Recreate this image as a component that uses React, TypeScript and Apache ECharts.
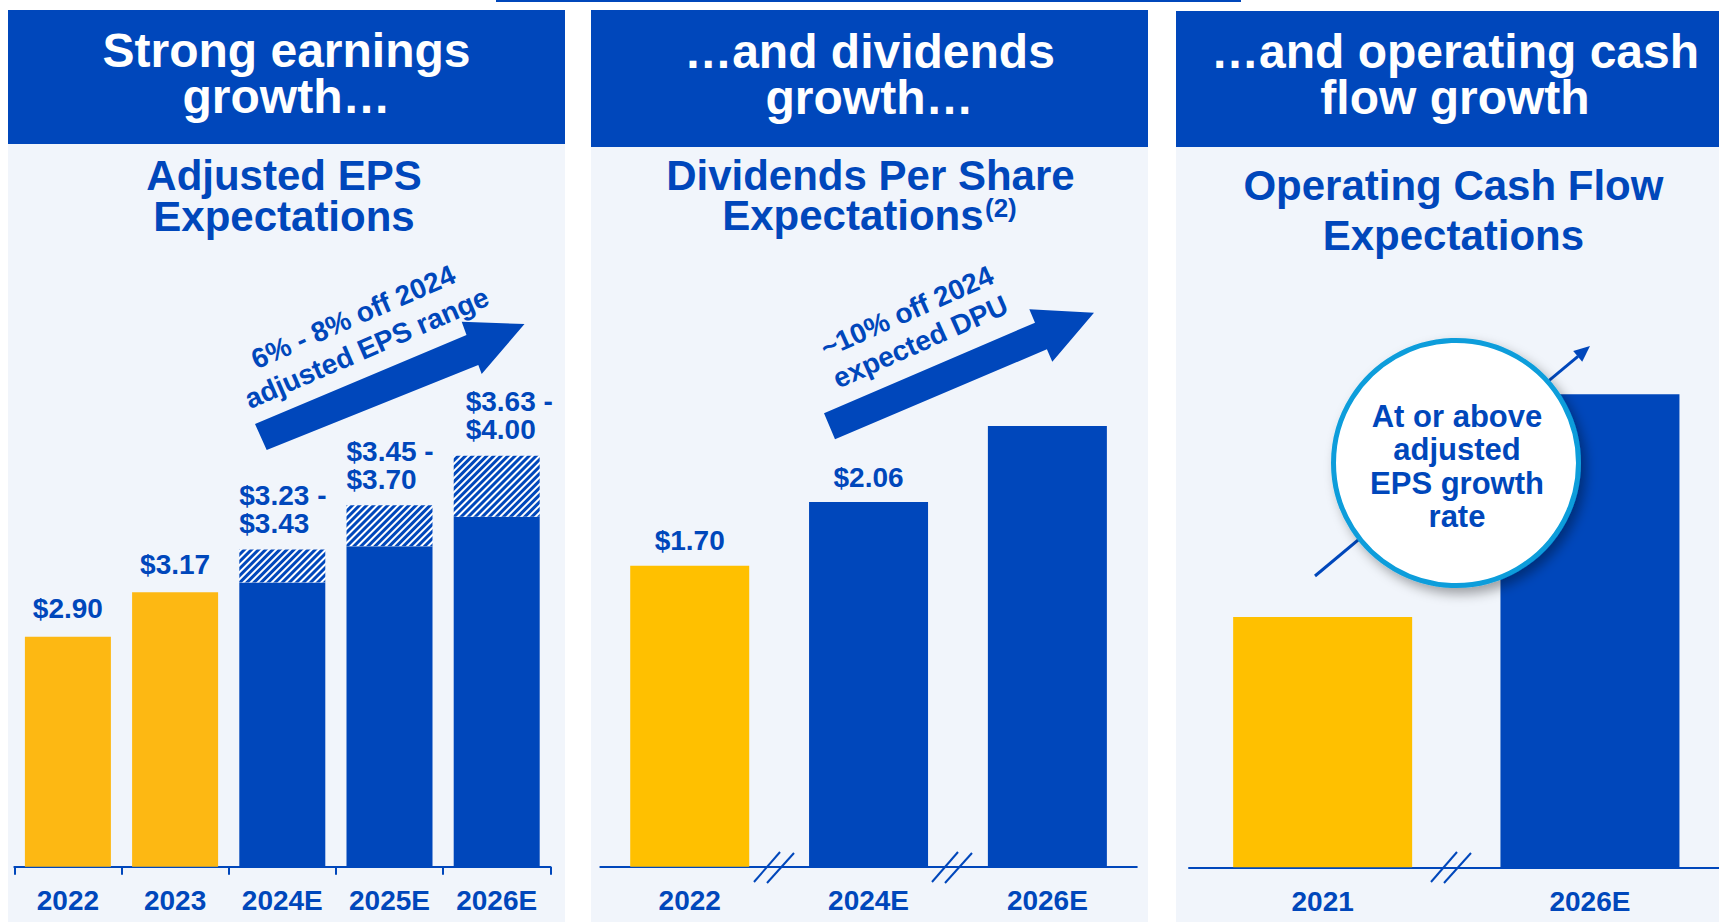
import React, { useEffect, useRef } from "react";
import * as echarts from "echarts";

// ---------- data ----------
const epsCategories = ["2022", "2023", "2024E", "2025E", "2026E"];
const epsLow = [2.9, 3.17, 3.23, 3.45, 3.63];
const epsHigh: (number | null)[] = [null, null, 3.43, 3.7, 4.0];

const dpsCategories = ["2022", "2024E", "2026E"];
const dpsValues = [1.7, 2.06, 2.49];
const dpsLabels = ["$1.70", "$2.06", ""];

const ocfCategories = ["2021", "2026E"];
const ocfIndex = [1.0, 1.89]; // relative level, 2021 = 1.00 (no values shown)

const headerTitles = ["Strong earnings\ngrowth…", "…and dividends\ngrowth…", "…and operating cash\nflow growth"];
const arrowNotes = ["6% - 8% off 2024\nadjusted EPS range", "~10% off 2024\nexpected DPU"];
const circleNote = "At or above\nadjusted\nEPS growth\nrate";

// ---------- style ----------
const FONT = '"Liberation Sans", Arial, Helvetica, sans-serif';
const BLUE = "#0047BB";
const GOLD1 = "#FDB813";
const GOLD2 = "#FFC000";
const LIGHT = "#F1F5FB";
const CYAN = "#0A9DDB";

const isEstimate = (c: string) => c.endsWith("E");
const deg = (d: number) => (d * Math.PI) / 180;

function breakMark(cx: number) {
  return [
    { type: "line", z: 5, shape: { x1: cx - 21, y1: 882, x2: cx + 5, y2: 852 }, style: { stroke: BLUE, lineWidth: 2 } },
    { type: "line", z: 5, shape: { x1: cx - 8, y1: 883, x2: cx + 19, y2: 853 }, style: { stroke: BLUE, lineWidth: 2 } },
  ];
}

function buildOption() {
  const labelBase = { color: BLUE, fontSize: 28, fontWeight: "bold", fontFamily: FONT };

  const epsBaseData = epsLow.map((v, i) => {
    const est = isEstimate(epsCategories[i]);
    return {
      value: v,
      itemStyle: { color: est ? BLUE : GOLD1 },
      label: { show: epsHigh[i] == null, formatter: "$" + v.toFixed(2) },
    };
  });
  const rangeShiftX = [0, 0, 0, 0, 12];
  const epsRangeData = epsHigh.map((h, i) => {
    if (h == null) return "-";
    return {
      value: +(h - epsLow[i]).toFixed(2),
      label: {
        show: true,
        position: [rangeShiftX[i], -12],
        align: "left",
        verticalAlign: "bottom",
        lineHeight: 28,
        formatter: "$" + epsLow[i].toFixed(2) + " -\n$" + h.toFixed(2),
        ...labelBase,
      },
    };
  });

  const axisLabel = { color: BLUE, fontSize: 28, fontWeight: "bold", fontFamily: FONT, margin: 20 };
  const axisLine = { show: true, lineStyle: { color: BLUE, width: 2 } };

  const graphic: any[] = [
    // top decorative line
    { type: "rect", z: 0, shape: { x: 496, y: 0, width: 745, height: 2 }, style: { fill: BLUE } },
    // panel backgrounds
    { type: "rect", z: -1, shape: { x: 8, y: 144, width: 557, height: 778 }, style: { fill: LIGHT } },
    { type: "rect", z: -1, shape: { x: 591, y: 147, width: 557, height: 775 }, style: { fill: LIGHT } },
    { type: "rect", z: -1, shape: { x: 1176, y: 147, width: 558, height: 775 }, style: { fill: LIGHT } },
    // headers
    { type: "rect", z: 0, shape: { x: 8, y: 10, width: 557, height: 134 }, style: { fill: BLUE } },
    { type: "rect", z: 0, shape: { x: 591, y: 10, width: 557, height: 137 }, style: { fill: BLUE } },
    { type: "rect", z: 0, shape: { x: 1176, y: 11, width: 558, height: 136 }, style: { fill: BLUE } },
  ];
  const headerX = [286.5, 869.5, 1455];
  const headerY = [73.5, 74.5, 74.5];
  headerTitles.forEach((t, i) => {
    graphic.push({
      type: "text", z: 1, x: headerX[i], y: headerY[i],
      style: { text: t, fill: "#fff", font: `bold 48px ${FONT}`, lineHeight: 46, textAlign: "center", textVerticalAlign: "middle" },
    });
  });
  // subtitles
  const sub = (text: string, x: number, y: number, lh: number, size = 42, align = "center") => ({
    type: "text", z: 1, x, y,
    style: { text, fill: BLUE, font: `bold ${size}px ${FONT}`, lineHeight: lh, textAlign: align, textVerticalAlign: "middle" },
  });
  graphic.push(sub("Adjusted EPS\nExpectations", 284, 195.5, 41));
  graphic.push(sub("Dividends Per Share", 870.4, 175.3, 42));
  graphic.push(sub("Expectations", 852.9, 215.3, 42));
  graphic.push(sub("(2)", 985, 207.5, 28, 26, "left"));
  graphic.push(sub("Operating Cash Flow\nExpectations", 1453.4, 210.3, 50));

  // growth arrows
  graphic.push({
    type: "polygon", z: 3,
    shape: { points: [[255, 424], [466.5, 335], [461.7, 321.7], [524.5, 324], [481.7, 374], [478.3, 365], [266.7, 450]] },
    style: { fill: BLUE },
  });
  graphic.push({
    type: "polygon", z: 3,
    shape: { points: [[824, 413.3], [1035, 322.7], [1029.3, 309.3], [1094, 312.7], [1052.3, 361.7], [1046.9, 349.3], [835, 439.3]] },
    style: { fill: BLUE },
  });
  graphic.push({
    type: "text", z: 3, x: 360, y: 332.5, rotation: deg(23.5),
    style: { text: arrowNotes[0], fill: BLUE, font: `bold 28px ${FONT}`, lineHeight: 34, textAlign: "center", textVerticalAlign: "middle" },
  });
  graphic.push({
    type: "text", z: 3, x: 913.7, y: 326.7, rotation: deg(24),
    style: { text: arrowNotes[1], fill: BLUE, font: `bold 28px ${FONT}`, lineHeight: 33, textAlign: "center", textVerticalAlign: "middle" },
  });

  // axis break marks
  graphic.push(...breakMark(775), ...breakMark(953), ...breakMark(1452));

  // panel 3 arrow + circle
  graphic.push({ type: "line", z: 8, shape: { x1: 1315, y1: 576, x2: 1578, y2: 356.3 }, style: { stroke: BLUE, lineWidth: 3 } });
  graphic.push({ type: "polygon", z: 8, shape: { points: [[1590, 346], [1582.2, 361.7], [1573.2, 350.9]] }, style: { fill: BLUE } });
  graphic.push({
    type: "circle", z: 10, shape: { cx: 1456, cy: 463, r: 122.5 },
    style: { fill: "#fff", stroke: CYAN, lineWidth: 5, shadowBlur: 12, shadowColor: "rgba(0,0,0,0.35)", shadowOffsetX: 5, shadowOffsetY: 6 },
  });
  graphic.push({
    type: "text", z: 11, x: 1457, y: 466.5,
    style: { text: circleNote, fill: BLUE, font: `bold 31px ${FONT}`, lineHeight: 33.2, textAlign: "center", textVerticalAlign: "middle" },
  });

  return {
    animation: false,
    backgroundColor: "#ffffff",
    textStyle: { fontFamily: FONT },
    grid: [
      { left: 14.3, top: 373.7, width: 536, height: 493 },
      { left: 600.3, top: 424.2, width: 536.5, height: 442.5 },
      { left: 1189, top: 366.7, width: 534.6, height: 500.6 },
    ],
    xAxis: [
      {
        type: "category", gridIndex: 0, data: epsCategories, axisLine,
        axisTick: { show: true, length: 8, lineStyle: { color: BLUE, width: 2 } }, axisLabel,
      },
      { type: "category", gridIndex: 1, data: dpsCategories, axisLine, axisTick: { show: false }, axisLabel },
      { type: "category", gridIndex: 2, data: ocfCategories, axisLine, axisTick: { show: false }, axisLabel },
    ],
    yAxis: [
      { type: "value", gridIndex: 0, min: 1.5, max: 4.5, show: false },
      { type: "value", gridIndex: 1, min: 0, max: 2.5, show: false },
      { type: "value", gridIndex: 2, min: 0, max: 2, show: false },
    ],
    series: [
      {
        name: "Adjusted EPS (low)", type: "bar", xAxisIndex: 0, yAxisIndex: 0, stack: "eps", barWidth: 86,
        label: { position: "top", distance: 14, ...labelBase },
        data: epsBaseData,
      },
      {
        name: "Adjusted EPS range", type: "bar", xAxisIndex: 0, yAxisIndex: 0, stack: "eps", barWidth: 86,
        itemStyle: {
          color: "#ffffff",
          decal: { symbol: "rect", symbolSize: 1, color: BLUE, backgroundColor: "#ffffff", dashArrayX: [1, 0], dashArrayY: [2.2, 2], rotation: -Math.PI / 4 },
        },
        data: epsRangeData,
      },
      {
        name: "Dividends per share", type: "bar", xAxisIndex: 1, yAxisIndex: 1, barWidth: 119,
        label: { position: "top", distance: 11, ...labelBase },
        data: dpsValues.map((v, i) => ({
          value: v,
          itemStyle: { color: isEstimate(dpsCategories[i]) ? BLUE : GOLD2 },
          label: { show: dpsLabels[i] !== "", formatter: dpsLabels[i] },
        })),
      },
      {
        name: "Operating cash flow", type: "bar", xAxisIndex: 2, yAxisIndex: 2, barWidth: 179,
        data: ocfIndex.map((v, i) => ({ value: v, itemStyle: { color: isEstimate(ocfCategories[i]) ? BLUE : GOLD2 } })),
      },
    ],
    graphic: { elements: graphic },
  };
}

export default function App() {
  const ref = useRef<HTMLDivElement>(null);
  useEffect(() => {
    if (!ref.current) return;
    const chart = echarts.init(ref.current, null, { renderer: "svg" });
    chart.setOption(buildOption() as any);
    return () => chart.dispose();
  }, []);
  // the slide's right panel runs past the page edge; the chart area is a bit wider than the window
  return <div ref={ref} style={{ position: "fixed", left: 0, top: 0, width: 1740, height: 922 }} />;
}
